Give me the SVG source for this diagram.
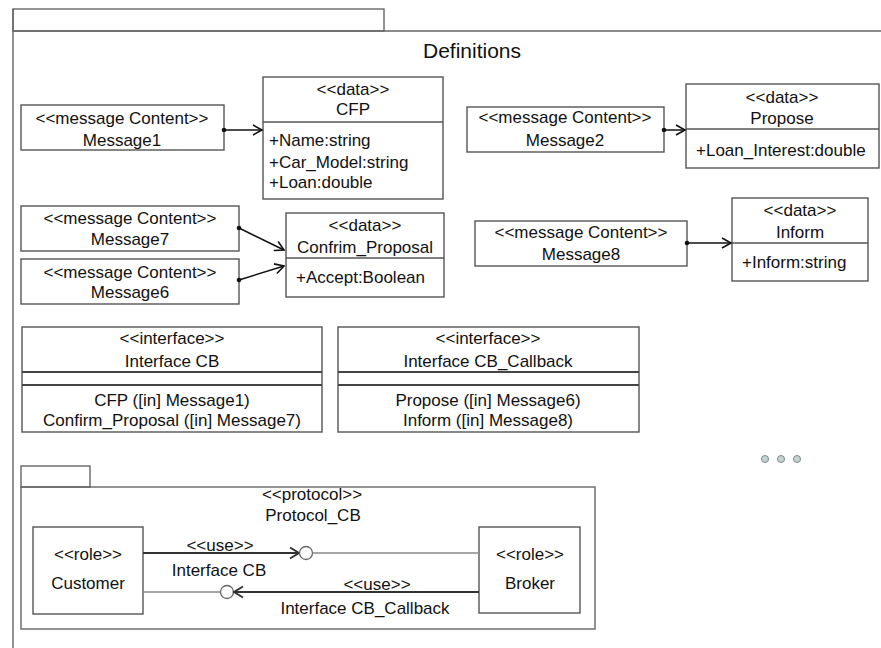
<svg xmlns="http://www.w3.org/2000/svg" width="881" height="648" viewBox="0 0 881 648">
<defs>
<style>
text{font-family:"Liberation Sans",Arial,sans-serif;font-size:17px;fill:#111}
.c{text-anchor:middle}
.box{fill:#fff;stroke:#555;stroke-width:1.4}
.sep{stroke:#555;stroke-width:1.4}
.sep2{stroke:#444;stroke-width:2}
.frame{fill:none;stroke:#666;stroke-width:1.4}
.conn{fill:none;stroke:#111;stroke-width:1.5}
.thin{fill:none;stroke:#888;stroke-width:1.3}
.thick{fill:none;stroke:#333;stroke-width:2.2}
.lolly{fill:#fff;stroke:#666;stroke-width:1.3}
.dots{fill:#c4d2d2;stroke:#7a8a8a;stroke-width:1}
</style>
<marker id="dot" markerWidth="6" markerHeight="6" refX="3" refY="3" markerUnits="userSpaceOnUse"><circle cx="3" cy="3" r="2.3" fill="#111"/></marker>
<marker id="open" markerWidth="12" markerHeight="12" refX="10.5" refY="6" orient="auto" markerUnits="userSpaceOnUse"><path d="M1.5,1 L10.5,6 L1.5,11" fill="none" stroke="#111" stroke-width="1.6"/></marker>
<marker id="open2" markerWidth="14" markerHeight="14" refX="11" refY="7" orient="auto" markerUnits="userSpaceOnUse"><path d="M2,1.5 L11,7 L2,12.5" fill="none" stroke="#333" stroke-width="2"/></marker>
</defs>
<rect width="881" height="648" fill="#fff"/>

<g id="definitions-frame">
<rect class="frame" x="13" y="9" width="371" height="22"/>
<path class="frame" d="M13,31 H881 M13,9 V648"/>
<text x="472" y="58" class="c" style="font-size:21px">Definitions</text>
</g>

<g id="message1">
<rect class="box" x="21" y="105" width="203" height="45"/>
<text class="c" x="122" y="124">&lt;&lt;message Content&gt;&gt;</text>
<text class="c" x="122" y="146">Message1</text>
</g>
<g id="cfp">
<rect class="box" x="263" y="77" width="180" height="122"/>
<line class="sep" x1="263" y1="122" x2="443" y2="122"/>
<text class="c" x="353" y="95">&lt;&lt;data&gt;&gt;</text>
<text class="c" x="353" y="115">CFP</text>
<text x="269" y="146">+Name:string</text>
<text x="269" y="168">+Car_Model:string</text>
<text x="269" y="188">+Loan:double</text>
</g>

<g id="message2">
<rect class="box" x="467" y="107" width="197" height="45"/>
<text class="c" x="565" y="123">&lt;&lt;message Content&gt;&gt;</text>
<text class="c" x="565" y="146">Message2</text>
</g>
<g id="propose">
<rect class="box" x="686" y="84" width="193" height="84"/>
<line class="sep" x1="686" y1="129" x2="879" y2="129"/>
<text class="c" x="782" y="103">&lt;&lt;data&gt;&gt;</text>
<text class="c" x="782" y="124">Propose</text>
<text x="696" y="156">+Loan_Interest:double</text>
</g>

<g id="message7">
<rect class="box" x="21" y="206" width="218" height="45"/>
<text class="c" x="130" y="224">&lt;&lt;message Content&gt;&gt;</text>
<text class="c" x="130" y="245">Message7</text>
</g>
<g id="message6">
<rect class="box" x="21" y="259" width="218" height="45"/>
<text class="c" x="130" y="278">&lt;&lt;message Content&gt;&gt;</text>
<text class="c" x="130" y="298">Message6</text>
</g>
<g id="confrim-proposal">
<rect class="box" x="286" y="213" width="158" height="84"/>
<line class="sep" x1="286" y1="258" x2="444" y2="258"/>
<text class="c" x="365" y="231">&lt;&lt;data&gt;&gt;</text>
<text class="c" x="365" y="253">Confrim_Proposal</text>
<text x="296" y="283">+Accept:Boolean</text>
</g>

<g id="message8">
<rect class="box" x="475" y="221" width="212" height="45"/>
<text class="c" x="581" y="238">&lt;&lt;message Content&gt;&gt;</text>
<text class="c" x="581" y="260">Message8</text>
</g>
<g id="inform">
<rect class="box" x="732" y="198" width="136" height="83"/>
<line class="sep" x1="732" y1="243" x2="868" y2="243"/>
<text class="c" x="800" y="216">&lt;&lt;data&gt;&gt;</text>
<text class="c" x="800" y="238">Inform</text>
<text x="742" y="268">+Inform:string</text>
</g>

<g id="interface-cb">
<rect class="box" x="22" y="327" width="300" height="105"/>
<line class="sep2" x1="22" y1="372" x2="322" y2="372"/>
<line class="sep2" x1="22" y1="385" x2="322" y2="385"/>
<text class="c" x="172" y="344">&lt;&lt;interface&gt;&gt;</text>
<text class="c" x="172" y="367">Interface CB</text>
<text class="c" x="172" y="406">CFP ([in] Message1)</text>
<text class="c" x="172" y="426">Confirm_Proposal ([in] Message7)</text>
</g>

<g id="interface-cb-callback">
<rect class="box" x="338" y="327" width="301" height="105"/>
<line class="sep2" x1="338" y1="372" x2="639" y2="372"/>
<line class="sep2" x1="338" y1="385" x2="639" y2="385"/>
<text class="c" x="488" y="344">&lt;&lt;interface&gt;&gt;</text>
<text class="c" x="488" y="367">Interface CB_Callback</text>
<text class="c" x="488" y="406">Propose ([in] Message6)</text>
<text class="c" x="488" y="426">Inform ([in] Message8)</text>
</g>

<g id="ellipsis">
<circle class="dots" cx="765" cy="459" r="3.5"/>
<circle class="dots" cx="781" cy="459" r="3.5"/>
<circle class="dots" cx="797" cy="459" r="3.5"/>
</g>

<g id="protocol-cb">
<rect class="frame" x="21" y="466" width="69" height="21"/>
<rect class="frame" x="21" y="487" width="574" height="142"/>
<text class="c" x="312" y="500">&lt;&lt;protocol&gt;&gt;</text>
<text class="c" x="313" y="521">Protocol_CB</text>
</g>
<g id="customer">
<rect class="box" x="33" y="527" width="110" height="87"/>
<text class="c" x="88" y="560">&lt;&lt;role&gt;&gt;</text>
<text class="c" x="88" y="589">Customer</text>
</g>
<g id="broker">
<rect class="box" x="479" y="527" width="101" height="86"/>
<text class="c" x="530" y="560">&lt;&lt;role&gt;&gt;</text>
<text class="c" x="530" y="589">Broker</text>
</g>

<g id="connectors">
<line class="conn" x1="224" y1="130" x2="262" y2="130" marker-start="url(#dot)" marker-end="url(#open)"/>
<line class="conn" x1="664" y1="130" x2="685" y2="130" marker-start="url(#dot)" marker-end="url(#open)"/>
<line class="conn" x1="239" y1="228" x2="284" y2="250" marker-start="url(#dot)" marker-end="url(#open)"/>
<line class="conn" x1="239" y1="280" x2="284" y2="266" marker-start="url(#dot)" marker-end="url(#open)"/>
<line class="conn" x1="687" y1="243" x2="731" y2="243" marker-start="url(#dot)" marker-end="url(#open)"/>

<line class="thick" x1="143" y1="553" x2="299" y2="553" marker-end="url(#open2)"/>
<circle class="lolly" cx="306" cy="553" r="6.5"/>
<line class="thin" x1="312.5" y1="553" x2="479" y2="553"/>
<text class="c" x="220" y="551">&lt;&lt;use&gt;&gt;</text>
<text class="c" x="219" y="576">Interface CB</text>

<line class="thin" x1="143" y1="592" x2="220.5" y2="592"/>
<circle class="lolly" cx="227" cy="592" r="6.5"/>
<line class="thick" x1="479" y1="592" x2="234" y2="592" marker-end="url(#open2)"/>
<text class="c" x="377" y="590">&lt;&lt;use&gt;&gt;</text>
<text class="c" x="365" y="614">Interface CB_Callback</text>
</g>
</svg>
